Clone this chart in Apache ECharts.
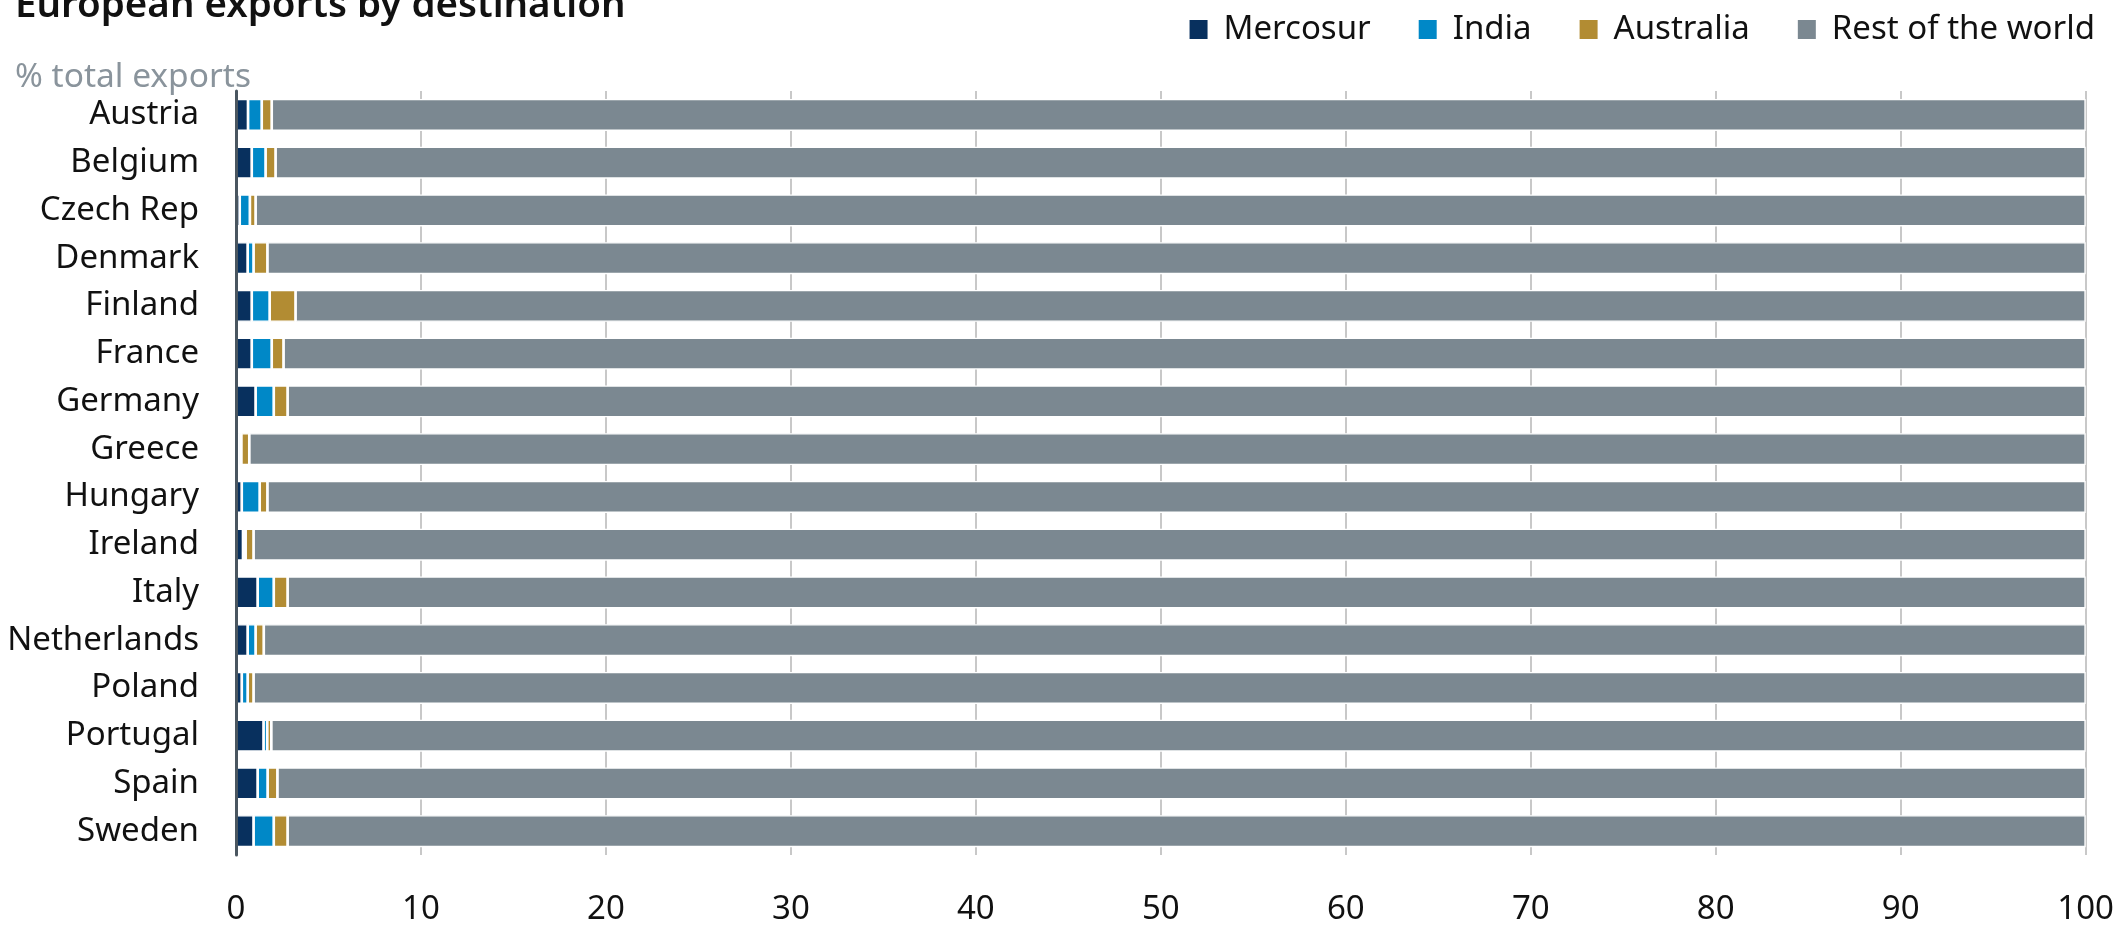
<!DOCTYPE html>
<html>
<head>
<meta charset="utf-8">
<script src="https://cdn.jsdelivr.net/npm/echarts@6/dist/echarts.min.js"></script>
<style>
  html, body { margin: 0; padding: 0; background: #fff; }
  #main { width: 2117px; height: 927px; }
</style>
</head>
<body>
<div id="main"></div>
<script>
const countries = ["Austria", "Belgium", "Czech Rep", "Denmark", "Finland", "France", "Germany", "Greece",
  "Hungary", "Ireland", "Italy", "Netherlands", "Poland", "Portugal", "Spain", "Sweden"];
const mercosur  = [0.65, 0.85, 0.20, 0.63, 0.85, 0.85, 1.06, 0.17, 0.31, 0.38, 1.17, 0.63, 0.31, 1.49, 1.17, 0.95];
const india     = [0.74, 0.75, 0.55, 0.32, 0.97, 1.08, 0.98, 0.12, 0.97, 0.14, 0.87, 0.43, 0.32, 0.20, 0.54, 1.09];
const australia = [0.54, 0.54, 0.31, 0.75, 1.40, 0.64, 0.75, 0.43, 0.42, 0.43, 0.75, 0.44, 0.32, 0.22, 0.53, 0.75];
const restWorld = [98.07, 97.86, 98.94, 98.30, 96.78, 97.43, 97.21, 99.28, 98.30, 99.05, 97.21, 98.50, 99.05, 98.09, 97.76, 97.21];
const xTicks = [0, 10, 20, 30, 40, 50, 60, 70, 80, 90, 100];

const FONT = "Noto Sans";
const chart = echarts.init(document.getElementById("main"));

// border is drawn inside each bar, so it leaves a thin white gap between the stacked pieces
function seriesOf(name, data, color) {
  return {
    name: name,
    type: "bar",
    stack: "total",
    barWidth: 32,
    data: data,
    itemStyle: { color: color, borderColor: "#ffffff", borderWidth: 1.35 },
    emphasis: { disabled: true }
  };
}

const option = {
  animation: false,
  textStyle: { fontFamily: FONT },
  title: [
    {
      text: "European exports by destination",
      left: 10, top: -18,
      textStyle: { fontFamily: FONT, fontSize: 38.5, fontWeight: 600, color: "#111111" }
    },
    {
      text: "% total exports",
      left: 10, top: 55,
      textStyle: { fontFamily: FONT, fontSize: 33.5, fontWeight: 400, color: "#8a949c" }
    }
  ],
  legend: {
    right: 17, top: 8,
    icon: "rect",
    itemWidth: 20, itemHeight: 21,
    itemGap: 46,
    textStyle: { fontFamily: FONT, fontSize: 33, color: "#111111", padding: [0, 0, 0, 10] },
    data: ["Mercosur", "India", "Australia", "Rest of the world"]
  },
  grid: { left: 236, right: 31, top: 91, bottom: 72, containLabel: false },
  xAxis: {
    type: "value",
    min: xTicks[0], max: xTicks[xTicks.length - 1], interval: 10,
    axisLine: { show: false },
    axisTick: { show: false },
    splitLine: { show: true, lineStyle: { color: "#c8c8c8", width: 2 } },
    axisLabel: { fontFamily: FONT, fontSize: 33, color: "#111111", margin: 38 }
  },
  yAxis: {
    type: "category",
    data: countries,
    inverse: true,
    z: 5,
    axisLine: { show: true, lineStyle: { color: "#4a5660", width: 3 } },
    axisTick: { show: false },
    axisLabel: { fontFamily: FONT, fontSize: 33, color: "#111111", margin: 37 }
  },
  series: [
    seriesOf("Mercosur", mercosur, "#08305e"),
    seriesOf("India", india, "#0088c7"),
    seriesOf("Australia", australia, "#b28c33"),
    seriesOf("Rest of the world", restWorld, "#7b8891")
  ]
};

chart.setOption(option);
</script>
</body>
</html>
